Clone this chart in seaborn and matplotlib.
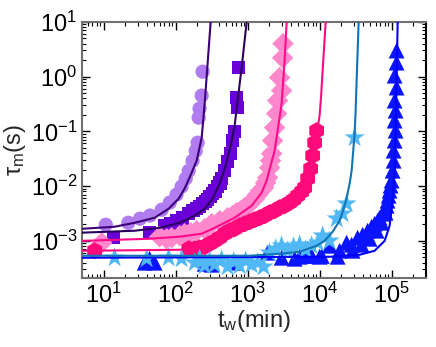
import numpy as np
import matplotlib
matplotlib.use('Agg')
import matplotlib.pyplot as plt
import seaborn as sns
from matplotlib.ticker import LogLocator, NullFormatter

# (t_w in min, tau_m in s)
circle_x = [10.7, 22, 32, 44, 64, 83, 103, 121, 138, 152, 172, 190, 202, 209, 215, 230, 237]
circle_y = [1.97e-3, 2.14e-3, 2.54e-3, 2.9e-3, 3.7e-3, 5.0e-3, 7.0e-3, 9.8e-3, 1.37e-2, 1.9e-2,
            2.9e-2, 4.4e-2, 6.2e-2, 0.178, 0.26, 0.45, 1.23]
fit1_x = [5, 14.2, 27, 51, 80, 110, 133, 156, 196, 230, 253, 278, 306, 320]
fit1_y = [1.66e-3, 1.81e-3, 2.14e-3, 2.64e-3, 3.86e-3, 5.89e-3, 8.96e-3, 1.43e-2, 2.91e-2,
          7.67e-2, 0.321, 1.73, 9.7, 20]

square_x = [13.8, 43.5, 70, 85, 103, 125, 152, 175, 196, 215, 237, 258, 278, 300, 326, 355,
            383, 410, 435, 479, 528, 580, 619, 660, 726, 703, 750]
square_y = [1.14e-3, 1.41e-3, 1.89e-3, 2.05e-3, 2.33e-3, 2.64e-3, 3.13e-3, 3.55e-3, 3.86e-3,
            4.2e-3, 4.77e-3, 5.2e-3, 5.64e-3, 6.4e-3, 7.26e-3, 8.2e-3, 9.75e-3, 1.15e-2,
            1.37e-2, 1.91e-2, 2.79e-2, 3.91e-2, 6.76e-2, 9.88e-2, 0.271, 0.413, 1.46]
fit2_x = [5, 27, 60, 114, 183, 253, 326, 408, 495, 580, 660, 726, 826, 908, 968, 1000]
fit2_y = [1.41e-3, 1.53e-3, 1.73e-3, 2.14e-3, 2.88e-3, 3.86e-3, 5.89e-3, 1.11e-2, 2.36e-2,
          5.48e-2, 0.127, 0.364, 1.46, 4.55, 9.7, 15]

diamond_x = [9.4, 60, 75, 88, 114, 133, 161, 196, 253, 316, 408, 528, 619, 703, 800, 908, 1033,
             1136, 1250, 1377, 1517, 1668, 1778, 1896, 2022, 2084, 2154, 2223, 2371, 2529, 2610,
             2966, 2783, 3062, 3100]
diamond_y = [9.2e-4, 1.19e-3, 1.09e-3, 1.14e-3, 1.24e-3, 1.35e-3, 1.41e-3, 1.53e-3, 1.66e-3,
             2.05e-3, 2.33e-3, 2.64e-3, 2.88e-3, 3.26e-3, 3.55e-3, 4.03e-3, 4.57e-3, 5.19e-3,
             5.89e-3, 6.97e-3, 8.24e-3, 9.35e-3, 1.15e-2, 1.43e-2, 2.17e-2, 2.91e-2, 3.91e-2,
             6.76e-2, 0.117, 0.211, 0.364, 0.555, 0.96, 2.2, 4.0]
fit3_x = [5, 42.2, 113.6, 230, 348, 660, 1136, 1564, 1836, 2084, 2371, 2610, 2966, 3263, 3481, 3600]
fit3_y = [1.0e-3, 1.09e-3, 1.19e-3, 1.35e-3, 1.73e-3, 2.64e-3, 4.38e-3, 7.57e-3, 1.26e-2,
          2.36e-2, 4.44e-2, 0.103, 0.321, 1.96, 9.7, 15]

hex_x = [7.5, 152, 183.5, 215, 253, 296.6, 348, 408, 479.6, 562, 660, 774, 908, 1066, 1250, 1468,
         1722, 2022, 2371, 2783, 3263, 3831, 4353, 4947, 5623, 6194, 6812, 7499, 7998, 8528, 9085]
hex_y = [6.6e-4, 7.18e-4, 7.18e-4, 7.48e-4, 7.8e-4, 8.85e-4, 1.0e-3, 1.14e-3, 1.35e-3, 1.53e-3,
         1.66e-3, 1.89e-3, 2.05e-3, 2.23e-3, 2.43e-3, 2.64e-3, 2.88e-3, 3.26e-3, 3.55e-3,
         4.03e-3, 4.38e-3, 4.98e-3, 5.64e-3, 6.67e-3, 7.9e-3, 9.35e-3, 1.37e-2, 2.08e-2,
         3.6e-2, 6.21e-2, 0.103]
fit4_x = [5, 113.6, 215, 348, 562, 1066, 2022, 3831, 5275, 5995, 6812, 7620, 8528, 9230, 10000,
          10490, 11010, 12120, 12500]
fit4_y = [6.59e-4, 6.87e-4, 7.48e-4, 9.63e-4, 1.47e-3, 2.14e-3, 3.13e-3, 4.98e-3, 7.26e-3,
          8.96e-3, 1.43e-2, 2.68e-2, 5.04e-2, 0.103, 0.194, 0.45, 1.29, 9.7, 15]

star_x = [14.2, 39.5, 80, 121, 183.5, 215, 253, 297, 348, 435, 528, 640, 774, 937, 1136, 1377,
          1668, 2022, 2448, 2966, 3594, 4353, 5275, 6395, 7743, 9380, 11010, 13770, 17230, 20840,
          23710, 30620]
star_y = [4.91e-4, 4.71e-4, 4.91e-4, 4.71e-4, 3.98e-4, 4.71e-4, 3.51e-4, 4.33e-4, 3.66e-4,
          4.51e-4, 3.36e-4, 4.15e-4, 3.51e-4, 4.33e-4, 3.66e-4, 3.98e-4, 3.36e-4, 6.06e-4,
          7.18e-4, 8.13e-4, 6.59e-4, 7.8e-4, 8.49e-4, 6.87e-4, 8.13e-4, 9.23e-4, 1.24e-3,
          1.0e-3, 2.54e-3, 3.13e-3, 4.77e-3, 7.67e-2]
fit5_x = [5, 1066, 2783, 5275, 9085, 11730, 15170, 18960, 22230, 24100, 26100, 27830, 30620,
          31620, 32640, 34810, 36000]
fit5_y = [5.34e-4, 5.34e-4, 5.81e-4, 6.32e-4, 8.13e-4, 1.0e-3, 1.47e-3, 2.33e-3, 4.38e-3,
          6.68e-3, 1.11e-2, 1.91e-2, 9.08e-2, 0.239, 0.845, 9.7, 15]

tri_x = [37.1, 43.5, 51.1, 253, 316, 660, 1896, 2966, 4495, 5275, 6194, 6812, 7743, 10000, 10720,
         13770, 17780, 18960, 23710, 27830, 28710, 33700, 38310, 39530, 46420, 49430, 52750, 58050,
         61940, 63950, 68130, 72610, 74990, 79970, 82540, 85320, 87900, 90850, 93800, 96840,
         100000, 103200, 106600, 106600, 110100, 113600, 110100, 113600, 110100, 117300, 110100,
         117300, 117300]
tri_y = [3.98e-4, 4.71e-4, 3.98e-4, 3.81e-4, 3.66e-4, 3.98e-4, 6.06e-4, 4.91e-4, 4.71e-4,
         5.12e-4, 5.34e-4, 7.18e-4, 5.3e-4, 5.12e-4, 5.3e-4, 8.13e-4, 5.12e-4, 6.59e-4, 9.23e-4,
         8.49e-4, 6.59e-4, 1.14e-3, 8.49e-4, 1.29e-3, 1.53e-3, 1.09e-3, 1.81e-3, 2.05e-3,
         1.53e-3, 2.33e-3, 2.64e-3, 2.14e-3, 3.13e-3, 3.55e-3, 3.26e-3, 4.38e-3, 5.41e-3,
         6.67e-3, 8.24e-3, 1.02e-2, 1.26e-2, 1.91e-2, 2.91e-2, 4.44e-2, 6.76e-2, 0.103, 0.157,
         0.239, 0.364, 0.63, 1.04, 1.80, 2.99]
fit6_x = [5, 13770, 35940, 58050, 79970, 93800, 103200, 110100, 113600, 117300, 121200, 123000]
fit6_y = [4.91e-4, 5.12e-4, 5.57e-4, 6.59e-4, 1.0e-3, 1.89e-3, 5.41e-3, 1.91e-2, 0.103, 0.845,
          9.7, 15]

# marker data, fit line, marker, colour, line colour, size
series = [
    (circle_x, circle_y, fit1_x, fit1_y, 'o', '#b07cf0', '#3c0078', 105),
    (square_x, square_y, fit2_x, fit2_y, 's', '#6a00d8', '#2a005e', 95),
    (diamond_x, diamond_y, fit3_x, fit3_y, 'D', '#ff88cc', '#ff0a8a', 120),
    (hex_x, hex_y, fit4_x, fit4_y, 'h', '#ff0a78', '#ff0a80', 150),
    (tri_x, tri_y, fit6_x, fit6_y, '^', '#0a14ff', '#0000ff', 130),
    (star_x, star_y, fit5_x, fit5_y, '*', '#4fb8f5', '#1273b5', 230),
]

sns.set_style('ticks')
plt.rcParams['font.family'] = ['Liberation Sans', 'DejaVu Sans']
plt.rcParams['mathtext.fontset'] = 'custom'
plt.rcParams['mathtext.rm'] = 'Liberation Sans'
plt.rcParams['mathtext.it'] = 'Liberation Sans:italic'

fig = plt.figure(figsize=(4.36, 3.47), dpi=100)
ax = fig.add_axes([0.188, 0.199, 0.789, 0.738])

for sx, sy, fx, fy, m, c, lc, s in series:
    sns.scatterplot(x=sx, y=sy, marker=m, s=s, color=c, edgecolor='none', linewidth=0,
                    ax=ax, zorder=2, legend=False)
for sx, sy, fx, fy, m, c, lc, s in series:
    sns.lineplot(x=fx, y=fy, color=lc, lw=1.5, sort=False, estimator=None, ax=ax, zorder=3)

ax.set_xscale('log')
ax.set_yscale('log')
ax.set_xlim(5, 3e5)
ax.set_ylim(2.1e-4, 10)
ax.xaxis.set_minor_locator(LogLocator(base=10, subs=np.arange(2, 10), numticks=20))
ax.yaxis.set_minor_locator(LogLocator(base=10, subs=np.arange(2, 10), numticks=20))
ax.xaxis.set_minor_formatter(NullFormatter())
ax.yaxis.set_minor_formatter(NullFormatter())
ax.set_xticks([1e1, 1e2, 1e3, 1e4, 1e5])
ax.set_yticks([1e-3, 1e-2, 1e-1, 1e0, 1e1])

ax.tick_params(which='both', direction='in', top=True, right=True, labelsize=17, colors='black')
ax.tick_params(which='major', length=6, width=1)
ax.tick_params(which='minor', length=3, width=0.8)
for side in ['left', 'top', 'bottom']:
    ax.spines[side].set_color('#707070')
ax.spines['right'].set_color('black')
for sp in ax.spines.values():
    sp.set_linewidth(1.5)

ax.set_xlabel('t$_\\mathregular{w}$(min)', fontsize=17, labelpad=0)
ax.set_ylabel('τ$_\\mathregular{m}$(s)', fontsize=17, labelpad=2)

fig.savefig('out.png', dpi=100)
